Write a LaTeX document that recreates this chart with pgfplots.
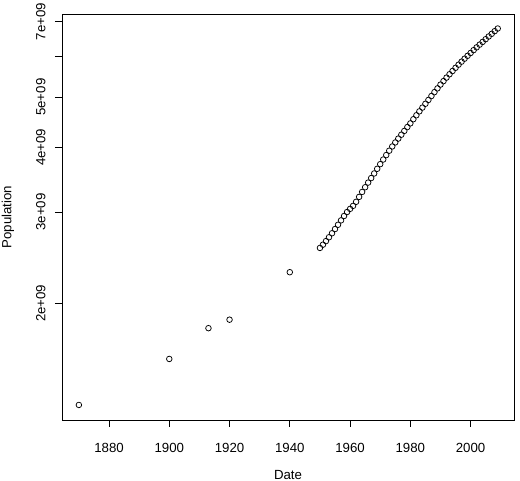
\documentclass[border=0pt]{standalone}
\usepackage{fontspec}
\setmainfont{Liberation Sans}
\usepackage{pgfplots}
\usepackage{pgfplotstable}
\pgfplotsset{compat=1.18}
\pgfplotstableread{
year pop
1870 1.272e9
1900 1.561e9
1913 1.790e9
1920 1.859e9
1940 2.296e9
1950 2.557628654e9
1951 2.594939877e9
1952 2.636772306e9
1953 2.682053389e9
1954 2.730228104e9
1955 2.782098943e9
1956 2.835299673e9
1957 2.891349717e9
1958 2.948137248e9
1959 3.000716593e9
1960 3.043001508e9
1961 3.083966929e9
1962 3.140093217e9
1963 3.209827882e9
1964 3.281201306e9
1965 3.350425793e9
1966 3.420677923e9
1967 3.490333715e9
1968 3.562313822e9
1969 3.637159050e9
1970 3.712697742e9
1971 3.790326948e9
1972 3.866568653e9
1973 3.942096442e9
1974 4.016608813e9
1975 4.089083233e9
1976 4.160185010e9
1977 4.232084578e9
1978 4.304105753e9
1979 4.379013942e9
1980 4.451362735e9
1981 4.534410125e9
1982 4.614566561e9
1983 4.695736743e9
1984 4.774569391e9
1985 4.856462699e9
1986 4.940571232e9
1987 5.027200492e9
1988 5.114557167e9
1989 5.201440110e9
1990 5.288955934e9
1991 5.371585922e9
1992 5.456136278e9
1993 5.538268316e9
1994 5.618682132e9
1995 5.699202985e9
1996 5.779440593e9
1997 5.857972543e9
1998 5.935213248e9
1999 6.012074922e9
2000 6.088571383e9
2001 6.165219247e9
2002 6.242016348e9
2003 6.318590956e9
2004 6.395699509e9
2005 6.473044732e9
2006 6.551263534e9
2007 6.629913759e9
2008 6.709049780e9
2009 6.788214394e9
}\popdata
\begin{document}
\fontsize{13.3}{15}\selectfont
\begin{tikzpicture}
\begin{axis}[
  scale only axis,
  width=452bp, height=406bp,
  xmin=1864.4, xmax=2014.4,
  ymode=log, ymin=1.19e9, ymax=7.243e9,
  xtick={1880,1900,1920,1940,1960,1980,2000},
  xticklabels={1880,1900,1920,1940,1960,1980,2000},
  ytick={2e9,3e9,4e9,5e9,6e9,7e9},
  yticklabels={2e+09,3e+09,4e+09,5e+09,,7e+09},
  minor ytick={},
  tick pos=left,
  tick align=outside,
  major tick length=7bp,
  axis line style={black, line width=0.75bp},
  every tick/.style={black, line width=0.75bp},
  xticklabel shift=12bp,
  yticklabel shift=5bp,
  xticklabel style={anchor=north, font=\fontsize{13.3}{15}\selectfont},
  yticklabel style={rotate=90, anchor=south, font=\fontsize{13.3}{15}\selectfont},
  xlabel={Date}, ylabel={Population},
  xlabel style={at={(axis description cs:0.5,-0.1355)}, anchor=center, font=\fontsize{13.3}{15}\selectfont},
  ylabel style={at={(axis description cs:-0.1195,0.5)}, anchor=center, font=\fontsize{13.3}{15}\selectfont},
  clip=false,
]
\addplot[only marks, mark=o, mark size=2.8bp, mark options={line width=0.75bp, black}] table[x=year, y=pop] {\popdata};
\end{axis}
\pgfresetboundingbox
\path (current axis.south west) ++(-62bp,-61bp) rectangle ++(520bp,481bp);
\end{tikzpicture}
\end{document}
